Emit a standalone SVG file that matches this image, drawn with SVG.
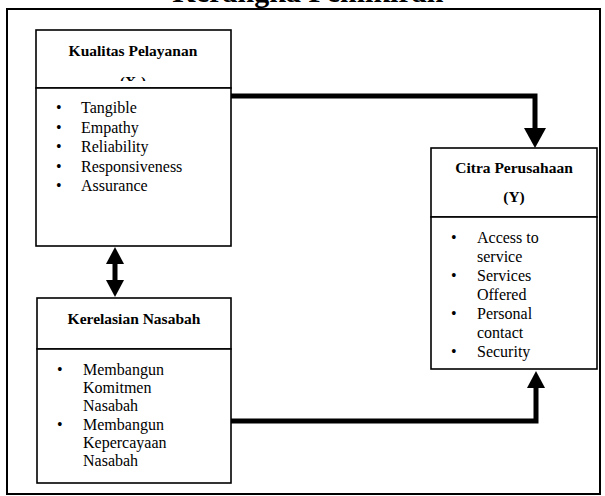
<svg xmlns="http://www.w3.org/2000/svg" width="605" height="496" viewBox="0 0 605 496">
<style>
.t{font-family:"Liberation Serif",serif;font-weight:bold;font-size:15.5px;text-anchor:middle}
.b text{font-family:"Liberation Serif",serif;font-size:16px}
.box{fill:#fff;stroke:#000;stroke-width:1.6}
.con{fill:none;stroke:#000;stroke-width:5;stroke-linejoin:miter}
</style>
<defs>
<marker id="ah" viewBox="0 0 20 22" markerUnits="userSpaceOnUse" markerWidth="20" markerHeight="22" refX="0" refY="11" orient="auto-start-reverse"><path d="M0,0 L20,11 L0,22 z" fill="#000"/></marker>
<marker id="ah2" viewBox="0 0 17 18" markerUnits="userSpaceOnUse" markerWidth="17" markerHeight="18" refX="0" refY="9" orient="auto-start-reverse"><path d="M0,0 L17,9 L0,18 z" fill="#000"/></marker>
<clipPath id="clipX"><rect x="36" y="30" width="195" height="51"/></clipPath>
</defs>
<text x="308" y="2" font-family="Liberation Serif" font-weight="bold" font-size="30" text-anchor="middle">Kerangka Pemikiran</text>
<rect x="7" y="9" width="593" height="485" fill="none" stroke="#000" stroke-width="2"/>
<g id="connectors">
<polyline class="con" points="231,96 535,96 535,128" marker-end="url(#ah)"/>
<polyline class="con" points="231,421 536,421 536,388" marker-end="url(#ah2)"/>
<line class="con" x1="115" y1="264" x2="115" y2="280" marker-start="url(#ah2)" marker-end="url(#ah2)"/>
</g>
<g id="kualitas">
<rect class="box" x="36" y="30" width="195" height="58"/>
<text class="t" x="133" y="56">Kualitas Pelayanan</text>
<text class="t" x="133" y="87" clip-path="url(#clipX)">(X<tspan font-size="10" dy="3">1</tspan><tspan dy="-3">)</tspan></text>
<rect class="box" x="36" y="88" width="195" height="158"/>
<g class="b">
<text x="56" y="113">•</text><text x="81" y="113">Tangible</text>
<text x="56" y="132.5">•</text><text x="81" y="132.5">Empathy</text>
<text x="56" y="152">•</text><text x="81" y="152">Reliability</text>
<text x="56" y="171.5">•</text><text x="81" y="171.5">Responsiveness</text>
<text x="56" y="191">•</text><text x="81" y="191">Assurance</text>
</g>
</g>
<g id="kerelasian">
<rect class="box" x="37" y="298" width="194" height="51"/>
<text class="t" x="134" y="324">Kerelasian Nasabah</text>
<rect class="box" x="37" y="349" width="194" height="134"/>
<g class="b">
<text x="57" y="375">•</text><text x="83" y="375">Membangun</text>
<text x="83" y="393">Komitmen</text>
<text x="83" y="411">Nasabah</text>
<text x="57" y="430">•</text><text x="83" y="430">Membangun</text>
<text x="83" y="448">Kepercayaan</text>
<text x="83" y="466">Nasabah</text>
</g>
</g>
<g id="citra">
<rect class="box" x="431" y="148" width="166" height="69"/>
<text class="t" x="514" y="173">Citra Perusahaan</text>
<text class="t" x="514" y="202">(Y)</text>
<rect class="box" x="431" y="217" width="166" height="152"/>
<g class="b">
<text x="451" y="243">•</text><text x="477" y="243">Access to</text>
<text x="477" y="262">service</text>
<text x="451" y="281">•</text><text x="477" y="281">Services</text>
<text x="477" y="300">Offered</text>
<text x="451" y="319">•</text><text x="477" y="319">Personal</text>
<text x="477" y="338">contact</text>
<text x="451" y="357">•</text><text x="477" y="357">Security</text>
</g>
</g>
</svg>
